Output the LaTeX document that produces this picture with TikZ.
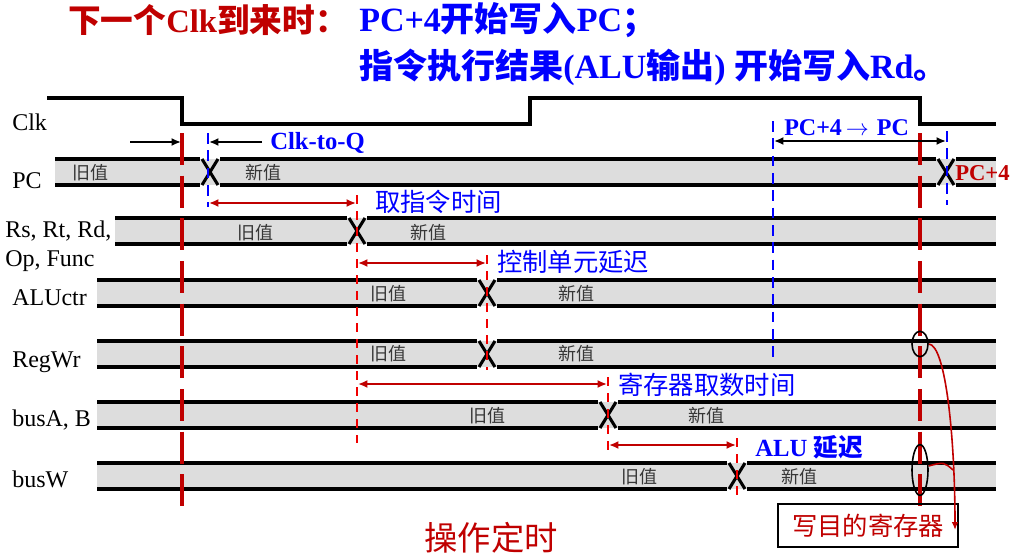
\documentclass[tikz,border=0pt]{standalone}
\usepackage{fontspec}
\setmainfont{Liberation Serif}
\newfontfamily\cjk{Noto Sans CJK SC}
\usetikzlibrary{arrows.meta,positioning,shapes.geometric}
\definecolor{clkred}{RGB}{192,0,0}
\definecolor{markred}{RGB}{240,0,0}
\definecolor{lblblue}{RGB}{0,0,255}
\definecolor{bandgray}{RGB}{221,221,221}
\definecolor{valgray}{RGB}{55,55,55}
\tikzset{
  sigline/.style={line width=2.3pt, black},
  edgeline/.style={line width=2.4pt, clkred, dash pattern=on 24pt off 8pt},
  markline/.style={line width=1.6pt, markred, dash pattern=on 7pt off 5pt},
  blueline/.style={line width=1.6pt, lblblue, dash pattern=on 8pt off 5pt},
  delay/.style={{Latex[length=7pt,width=6pt]}-{Latex[length=7pt,width=6pt]}, line width=1.8pt, clkred},
  hold/.style={-{Latex[length=7pt,width=6pt]}, line width=1.6pt, black},
  siglabel/.style={anchor=base west, inner sep=0pt, font=\fontsize{18}{21}\selectfont},
  valtext/.style={inner sep=0pt, text=valgray, font=\cjk\fontsize{13.5}{15}\selectfont},
  delaytext/.style={anchor=west, inner sep=0pt, text=lblblue, font=\cjk\fontsize{19}{22}\selectfont},
  titletext/.style={anchor=west, inner sep=0pt, font=\bfseries\fontsize{25.5}{28}\selectfont}
}
\begin{document}
\begin{tikzpicture}[x=0.75pt,y=-0.75pt]
\useasboundingbox[fill=white] (0,0) rectangle (1014,560);

\node[titletext, text=clkred, font=\bfseries\fontsize{24.5}{28}\selectfont] (ttl1) at (68,20) {{\cjk 下一个}Clk{\cjk 到来时：}};
\node[titletext, text=lblblue] (ttl2) at (359,20) {PC+4{\cjk 开始写入}PC{\cjk ；}};
\node[titletext, text=lblblue] (ttl3) at (359,67) {{\cjk 指令执行结果}(ALU{\cjk 输出}) {\cjk 开始写入}Rd{\cjk 。}};

\node[siglabel] (lclk) at (12,130) {Clk};
\node[siglabel] (lpc) at (12,188) {PC};
\node[siglabel] (lrs) at (5,237) {Rs, Rt, Rd,};
\node[siglabel] (lop) at (5,266) {Op, Func};
\node[siglabel] (laluctr) at (12,305) {ALUctr};
\node[siglabel] (lregwr) at (12,367) {RegWr};
\node[siglabel] (lbusab) at (12,426) {busA, B};
\node[siglabel] (lbusw) at (12,487) {busW};

\draw[sigline] (47,98) -- (182,98) -- (182,124) -- (530,124) -- (530,98) -- (920,98) -- (920,124) -- (996,124);

\fill[bandgray] (55,159) rectangle (996,185);
\draw[sigline] (55,159) -- (200,159) (55,185) -- (200,185) (220,159) -- (936,159) (220,185) -- (936,185) (956,159) -- (996,159) (956,185) -- (996,185);
\draw[sigline] (202,159) -- (218,185) (202,185) -- (218,159) (938,159) -- (954,185) (938,185) -- (954,159);
\foreach \yt/\xs/\xc in {218/115/357, 280/97/487, 341/97/487, 402/97/608, 463/97/737} {
  \fill[bandgray] (\xs,\yt) rectangle (996,\yt+26);
  \draw[sigline] (\xs,\yt) -- (\xc-10,\yt) (\xs,\yt+26) -- (\xc-10,\yt+26) (\xc+10,\yt) -- (996,\yt) (\xc+10,\yt+26) -- (996,\yt+26);
  \draw[sigline] (\xc-8,\yt) -- (\xc+8,\yt+26) (\xc-8,\yt+26) -- (\xc+8,\yt);
}
\foreach \x/\y/\t [count=\i] in {90/173/旧值, 263/173/新值, 255/233/旧值, 428/233/新值, 388/294/旧值, 576/294/新值, 388/354/旧值, 576/354/新值, 487/416/旧值, 706/416/新值, 639/477/旧值, 799/477/新值}
  \node[valtext] (val\i) at (\x,\y) {\t};
\node[anchor=west, inner sep=0pt, text=clkred, font=\bfseries\fontsize{17}{20}\selectfont] (pcnext) at (955,173) {PC+4};

\draw[edgeline] (182,133) -- (182,512);
\draw[edgeline] (920,133) -- (920,512);
\draw[markline] (357,195) -- (357,443);
\draw[markline] (487,255) -- (487,370);
\draw[markline] (608,377) -- (608,452);
\draw[markline] (737,438) -- (737,500);
\draw[blueline] (208,133) -- (208,207);
\draw[blueline] (773,121) -- (773,363);
\draw[blueline] (947,131) -- (947,205);

\coordinate (cq0) at (130,142);
\coordinate (cq1) at (181,142);
\coordinate (cq2) at (262,142);
\coordinate (cq3) at (209,142);
\draw[hold] (cq0) -- (cq1);
\draw[hold] (cq2) -- (cq3);
\node[anchor=west, inner sep=0pt, text=lblblue, font=\bfseries\fontsize{18.5}{21}\selectfont] (tcq) at (270,143) {Clk-to-Q};

\coordinate (pcw0) at (774,141);
\coordinate (pcw1) at (946,141);
\draw[hold, {Latex[length=7pt,width=6pt]}-{Latex[length=7pt,width=6pt]}] (pcw0) -- (pcw1);
\node[anchor=west, inner sep=0pt, text=lblblue, font=\bfseries\fontsize{18}{21}\selectfont] (tpcw) at (784,128) {PC+4\,$\rightarrow$\,\,PC};

\coordinate (fetch0) at (209,203);
\coordinate (fetch1) at (356,203);
\coordinate (ctrl0) at (358,263);
\coordinate (ctrl1) at (486,263);
\coordinate (reg0) at (358,384);
\coordinate (reg1) at (607,384);
\coordinate (alu0) at (609,445);
\coordinate (alu1) at (736,445);
\draw[delay] (fetch0) -- (fetch1);
\draw[delay] (ctrl0) -- (ctrl1);
\draw[delay] (reg0) -- (reg1);
\draw[delay] (alu0) -- (alu1);
\node[delaytext] (tfetch) at (375,202) {取指令时间};
\node[delaytext] (tctrl) at (497,262) {控制单元延迟};
\node[delaytext] (treg) at (618,385) {寄存器取数时间};
\node[delaytext, font=\bfseries\fontsize{18.5}{21}\selectfont] (talu) at (755,447) {ALU {\cjk 延迟}};

\node[ellipse, draw, line width=1.2pt, minimum width=12pt, minimum height=19pt, inner sep=0pt] (wrpt) at (920,344) {};
\node[ellipse, draw, line width=1.2pt, minimum width=12pt, minimum height=38pt, inner sep=0pt] (wrbus) at (920,470) {};
\node[draw, line width=1.5pt, minimum width=135pt, minimum height=32pt, inner sep=0pt, text=clkred, font=\cjk\fontsize{19}{22}\selectfont] (dstbox) at (868,525.5) {写目的寄存器};
\coordinate (wrend) at (955,530);
\coordinate (wrjoin) at (953,470);
\draw[clkred, line width=1.2pt, -{Latex[length=6pt,width=5pt]}] (wrpt.east) .. controls (946,345) and (955,440) .. (wrend);
\draw[clkred, line width=1.2pt] (wrbus.25) .. controls (944,462) .. (wrjoin);

\node[inner sep=0pt, text=clkred, font=\cjk\fontsize{25}{28}\selectfont] (tops) at (491,538) {操作定时};
\end{tikzpicture}
\end{document}
